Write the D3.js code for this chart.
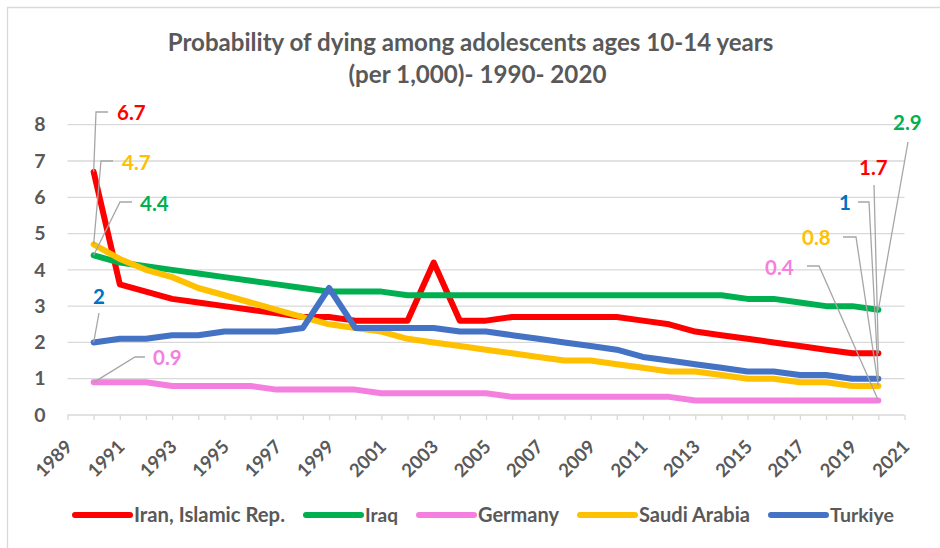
<!DOCTYPE html>
<html>
<head>
<meta charset="utf-8">
<script src="https://cdn.jsdelivr.net/npm/d3@7"></script>
<style>
  body { margin: 0; background: #fff; }
  svg text { font-family: Lato, "Open Sans", sans-serif; font-weight: 700; }
</style>
</head>
<body>
<div id="wrapper"></div>
<script>
// 1. data
const years = [1990, 1991, 1992, 1993, 1994, 1995, 1996, 1997, 1998, 1999, 2000,
  2001, 2002, 2003, 2004, 2005, 2006, 2007, 2008, 2009, 2010,
  2011, 2012, 2013, 2014, 2015, 2016, 2017, 2018, 2019, 2020]
const iran = [6.7, 3.6, 3.4, 3.2, 3.1, 3.0, 2.9, 2.8, 2.7, 2.7, 2.6,
  2.6, 2.6, 4.2, 2.6, 2.6, 2.7, 2.7, 2.7, 2.7, 2.7,
  2.6, 2.5, 2.3, 2.2, 2.1, 2.0, 1.9, 1.8, 1.7, 1.7]
const iraq = [4.4, 4.2, 4.1, 4.0, 3.9, 3.8, 3.7, 3.6, 3.5, 3.4, 3.4,
  3.4, 3.3, 3.3, 3.3, 3.3, 3.3, 3.3, 3.3, 3.3, 3.3,
  3.3, 3.3, 3.3, 3.3, 3.2, 3.2, 3.1, 3.0, 3.0, 2.9]
const germany = [0.9, 0.9, 0.9, 0.8, 0.8, 0.8, 0.8, 0.7, 0.7, 0.7, 0.7,
  0.6, 0.6, 0.6, 0.6, 0.6, 0.5, 0.5, 0.5, 0.5, 0.5,
  0.5, 0.5, 0.4, 0.4, 0.4, 0.4, 0.4, 0.4, 0.4, 0.4]
const saudiArabia = [4.7, 4.3, 4.0, 3.8, 3.5, 3.3, 3.1, 2.9, 2.7, 2.5, 2.4,
  2.3, 2.1, 2.0, 1.9, 1.8, 1.7, 1.6, 1.5, 1.5, 1.4,
  1.3, 1.2, 1.2, 1.1, 1.0, 1.0, 0.9, 0.9, 0.8, 0.8]
const turkiye = [2.0, 2.1, 2.1, 2.2, 2.2, 2.3, 2.3, 2.3, 2.4, 3.5, 2.4,
  2.4, 2.4, 2.4, 2.3, 2.3, 2.2, 2.1, 2.0, 1.9, 1.8,
  1.6, 1.5, 1.4, 1.3, 1.2, 1.2, 1.1, 1.1, 1.0, 1.0]

const seriesNames = ["Iran, Islamic Rep.", "Iraq", "Germany", "Saudi Arabia", "Turkiye"]
const seriesValues = [iran, iraq, germany, saudiArabia, turkiye]
const yTicks = [0, 1, 2, 3, 4, 5, 6, 7, 8]
const xTickLabels = [1989, 1991, 1993, 1995, 1997, 1999, 2001, 2003, 2005,
  2007, 2009, 2011, 2013, 2015, 2017, 2019, 2021]
const titleLines = ["Probability of dying among adolescents ages 10-14 years",
  "(per 1,000)- 1990- 2020"]

// styles
const lineColors = ["#FF0000", "#00B050", "#F57FDE", "#FFC000", "#4472C4"]
const labelColors = ["#FF0000", "#00B050", "#F57FDE", "#FFC000", "#0070C0"]
const textColor = "#595959"
const gridColor = "#D9D9D9"
const leaderColor = "#A6A6A6"

// data callouts: series index, year, and hand-placed label / leader positions
const callouts = [
  { s: 0, year: 1990, tx: 117, ty: 113, leader: [[96, 112], [108, 112]] },
  { s: 3, year: 1990, tx: 122, ty: 163, leader: [[101, 161], [113, 161]] },
  { s: 1, year: 1990, tx: 140, ty: 204, leader: [[120, 202], [132, 202]] },
  { s: 4, year: 1990, tx: 93, ty: 297, leader: [[99, 313]] },
  { s: 2, year: 1990, tx: 153, ty: 358, leader: [[135, 357], [145, 357]] },
  { s: 1, year: 2020, tx: 893, ty: 123, leader: [[908, 142]] },
  { s: 0, year: 2020, tx: 859, ty: 168, leader: [[874, 185]] },
  { s: 4, year: 2020, tx: 839, ty: 203, leader: [[869, 202], [858, 202]] },
  { s: 3, year: 2020, tx: 802, ty: 238, leader: [[856, 237], [843, 237]] },
  { s: 2, year: 2020, tx: 765, ty: 268, leader: [[819, 266], [807, 266]] },
]

// 2. dimensions
const width = 940
const height = 548
const plot = { left: 67.5, right: 904.5, top: 124.7, bottom: 415 }

// 3. canvas
const svg = d3.select("#wrapper")
  .append("svg")
  .attr("width", width)
  .attr("height", height)
  .style("display", "block")

svg.append("rect")
  .attr("width", width).attr("height", height).attr("fill", "#fff")
svg.append("path")
  .attr("d", `M7.5,${height}V7.5H${width}`)
  .attr("fill", "none")
  .attr("stroke", gridColor)
  .attr("stroke-width", 1.3)

function fitWidth(sel, target) {
  const w = sel.node().getComputedTextLength()
  const fs = parseFloat(sel.attr("font-size"))
  sel.attr("font-size", fs * target / w)
}

// title
const titleX = [470.5, 477.5]
const titleY = [51, 83]
const titleW = [606, 258]
titleLines.forEach((t, i) => {
  const tt = svg.append("text")
    .attr("x", titleX[i]).attr("y", titleY[i])
    .attr("text-anchor", "middle")
    .attr("font-size", 22)
    .attr("fill", textColor)
    .text(t)
  fitWidth(tt, titleW[i])
})

// 4. scales
const xScale = d3.scaleLinear().domain([1989, 2021]).range([plot.left, plot.right])
const yScale = d3.scaleLinear().domain([0, 8]).range([plot.bottom, plot.top])

// gridlines
svg.append("g")
  .selectAll("line")
  .data(yTicks.filter(d => d > 0))
  .join("line")
  .attr("x1", plot.left).attr("x2", plot.right)
  .attr("y1", d => yScale(d)).attr("y2", d => yScale(d))
  .attr("stroke", gridColor).attr("stroke-width", 1.3)

// y axis labels
const yAxis = svg.append("g")
  .attr("transform", `translate(${plot.left},0)`)
  .call(d3.axisLeft(yScale).tickValues(yTicks).tickSize(0).tickPadding(22))
yAxis.select(".domain").remove()
yAxis.selectAll("text")
  .attr("font-size", 19.5)
  .attr("fill", textColor)
  .style("font-family", "Lato, sans-serif")
  .style("font-weight", 700)

// x axis
const xAxis = svg.append("g")
  .attr("transform", `translate(0,${plot.bottom})`)
  .call(d3.axisBottom(xScale)
    .tickValues(d3.range(1989, 2022))
    .tickSize(5)
    .tickFormat(""))
xAxis.select(".domain")
  .attr("stroke", gridColor).attr("stroke-width", 1.3)
  .attr("d", `M${plot.left},0H${plot.right}`)
xAxis.selectAll(".tick line")
  .attr("stroke", gridColor).attr("stroke-width", 1.3)

svg.append("g")
  .selectAll("text")
  .data(xTickLabels)
  .join("text")
  .attr("transform", d => `translate(${xScale(d) + 6},${plot.bottom + 33}) rotate(-45)`)
  .attr("text-anchor", "end")
  .attr("font-size", 18.5)
  .attr("fill", textColor)
  .text(d => d)

// 5. lines
const line = d3.line()
  .x((d, i) => xScale(years[i]))
  .y(d => yScale(d))

svg.append("g")
  .selectAll("path")
  .data(seriesValues)
  .join("path")
  .attr("d", line)
  .attr("fill", "none")
  .attr("stroke", (d, i) => lineColors[i])
  .attr("stroke-width", 6)
  .attr("stroke-linejoin", "round")
  .attr("stroke-linecap", "round")

// callouts
const cg = svg.append("g")
callouts.forEach(c => {
  const i = years.indexOf(c.year)
  const v = seriesValues[c.s][i]
  const pts = [[xScale(c.year), yScale(v)], ...c.leader]
  cg.append("path")
    .attr("d", d3.line()(pts))
    .attr("fill", "none")
    .attr("stroke", leaderColor)
    .attr("stroke-width", 1.3)
  cg.append("text")
    .attr("x", c.tx).attr("y", c.ty)
    .attr("dy", "0.36em")
    .attr("font-size", 20.5)
    .attr("fill", labelColors[c.s])
    .text(d3.format("")(v))
})

// legend
const legendTextW = [151, 33, 81, 111, 64]
const legend = svg.append("g")
let lx = 0
seriesNames.forEach((name, i) => {
  const g = legend.append("g").attr("transform", `translate(${lx},0)`)
  g.append("line")
    .attr("x1", 0).attr("x2", 55)
    .attr("stroke", lineColors[i])
    .attr("stroke-width", 6)
    .attr("stroke-linecap", "round")
  const t = g.append("text")
    .attr("x", 59).attr("dy", "0.36em")
    .attr("font-size", 19)
    .attr("fill", textColor)
    .text(name)
  fitWidth(t, legendTextW[i])
  lx += 59 + legendTextW[i] + 21
})
legend.attr("transform", `translate(75,515)`)
</script>
</body>
</html>
